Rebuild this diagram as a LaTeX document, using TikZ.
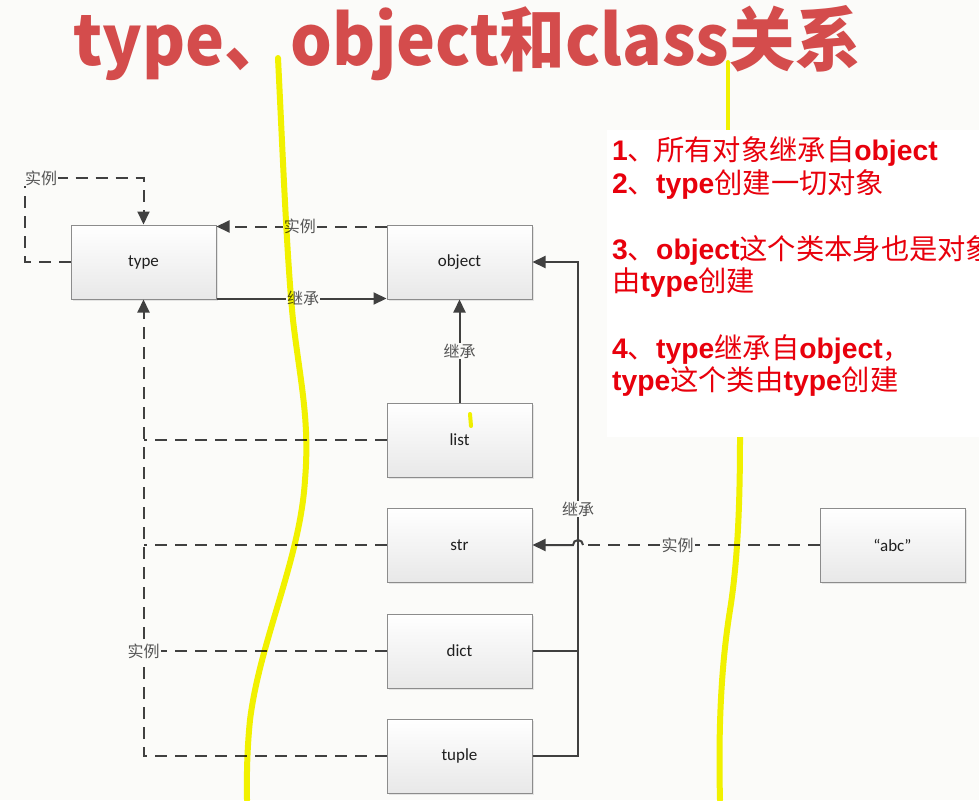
\documentclass[tikz,border=0pt]{standalone}
\usepackage{fontspec}
\setmainfont{Carlito}
\newfontfamily\cjk{Noto Sans CJK SC}
\newfontfamily\arialf{Liberation Sans}
\newcommand\lat[1]{{\arialf\bfseries #1}}
\usetikzlibrary{arrows.meta,shadows,calc}
\definecolor{bg}{RGB}{251,251,249}
\definecolor{ln}{RGB}{64,64,64}
\definecolor{titlered}{RGB}{212,76,76}
\definecolor{notered}{RGB}{232,0,12}
\definecolor{hl}{RGB}{245,245,0}
\definecolor{boxedge}{RGB}{140,140,140}
\definecolor{labgray}{RGB}{85,85,85}
\begin{document}
\begin{tikzpicture}[x=1pt,y=-1pt,
 box/.style={draw=boxedge, line width=1pt, top color=white, bottom color=black!9,
   minimum width=145pt, minimum height=74pt, inner sep=0pt,
   font=\fontsize{17}{17}\selectfont, text=black!88,
   drop shadow={opacity=0.18, shadow xshift=2pt, shadow yshift=-2pt}},
 inst/.style={draw=ln, line width=2pt, dash pattern=on 12pt off 8pt},
 inh/.style={draw=ln, line width=2pt},
 tip/.style={-{Triangle[length=13pt,width=12pt]}},
 lab/.style={fill=bg, inner sep=1pt, text=labgray, font=\cjk\fontsize{16}{16}\selectfont},
 hlpen/.style={draw=hl, line width=6pt, line cap=round, line join=round},
 note/.style={anchor=base west, inner sep=0pt, text=notered, font=\cjk\fontsize{28.3}{28.3}\selectfont},
]
\useasboundingbox (0,0) rectangle (979,800);
\fill[bg] (0,0) rectangle (979,800);

% boxes
\node[box] (type) at (143.5,262) {type};
\node[box] (object) at (459.5,262) {object};
\node[box] (list) at (459.5,440) {list};
\node[box] (str) at (459.5,545) {str};
\node[box] (dict) at (459.5,651) {dict};
\node[box] (tuple) at (459.5,756) {tuple};
\node[box] (abc) at (892.5,545) {“abc”};

% type self instance
\coordinate (selfc) at (25,178);
\draw[inst,tip] (type.west) -| (selfc) -| (type.north);
\node[lab] at (41,178) {实例};

% object -> type instance
\draw[inst,tip] ([yshift=-2pt]object.north west) -- ([yshift=-2pt]type.north east)
  node[lab,pos=0.51] {实例};

% type -> object inherit
\draw[inh,tip] ([yshift=1pt]type.south east) -- ([yshift=1pt]object.south west)
  node[lab,pos=0.51] {继承};

% list -> object inherit
\draw[inh,tip] (list.north) -- (object.south) node[lab,midway] {继承};

% instances -> type
\draw[inst,tip] (tuple.west) -| (type.south);
\draw[inst] (list.west) -- (list.west -| type.south);
\draw[inst] (str.west) -- (str.west -| type.south);
\draw[inst] (dict.west) -- (dict.west -| type.south);
\node[lab] at (dict.west -| type.south) {实例};

% inherit bus -> object
\coordinate (bus) at (578,756);
\draw[inh,tip] (tuple.east) -- (bus) |- (object.east);
\draw[inh] (dict.east) -- (dict.east -| bus);
\node[lab] at (578,509) {继承};

% abc -> str instance with hop
\coordinate (hopR) at (583,545);
\draw[inst] (abc.west) -- (hopR) node[lab,pos=0.6] {实例};
\draw[inh,tip] (hopR) arc[start angle=0,end angle=-180,radius=5] -- (str.east);

% highlighter strokes
\begin{scope}[blend mode=multiply]
\draw[hlpen] (278,58) .. controls (283,160) and (287,260) .. (293,320)
  .. controls (300,380) and (310,420) .. (305,480)
  .. controls (300,560) and (260,640) .. (250,720)
  .. controls (246,760) and (247,790) .. (247,800);
\draw[hlpen, line width=4pt] (728,62) -- (728,132);
\draw[hlpen] (740,437) .. controls (740,500) and (738,560) .. (730,610)
  .. controls (722,660) and (718,720) .. (720,800);
\draw[hlpen, line width=4pt] (470,414) -- (471,426);
\end{scope}

% notes panel
\fill[white] (607,130) rectangle (979,437);
\node[note] at (612,160) {\lat{1}、所有对象继承自\lat{object}};
\node[note] at (612,193) {\lat{2}、\lat{type}创建一切对象};
\node[note] at (612,259) {\lat{3}、\lat{object}这个类本身也是对象};
\node[note] at (612,291) {由\lat{type}创建};
\node[note] at (612,358) {\lat{4}、\lat{type}继承自\lat{object}，};
\node[note] at (612,390) {\lat{type}这个类由\lat{type}创建};

% title
\node[font=\cjk\bfseries\fontsize{62}{62}\selectfont, text=titlered, inner sep=0pt,
  xscale=1.06, yscale=1.12, transform shape] (title) at (467,43) {type、object和class关系};
\end{tikzpicture}
\end{document}
